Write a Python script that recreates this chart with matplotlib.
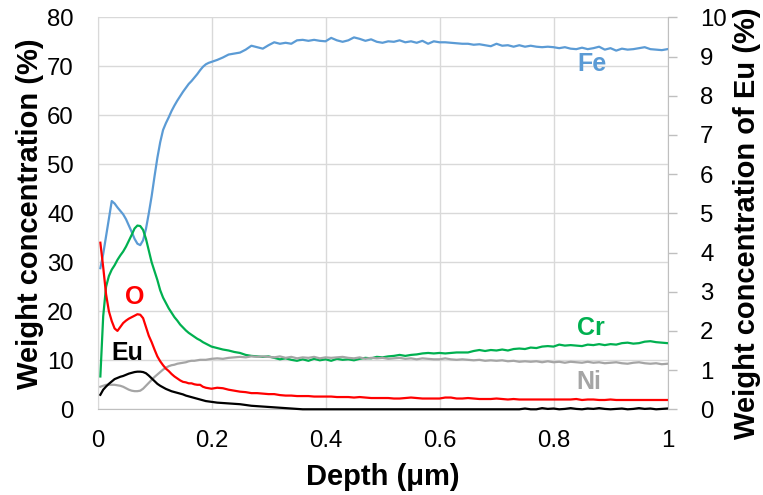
import numpy as np
import matplotlib
matplotlib.use("Agg")
import matplotlib.pyplot as plt

plt.rcParams["font.family"] = ["Liberation Sans", "DejaVu Sans"]

# depth grid (um): fine near the surface, coarser deeper
depth = np.round(np.concatenate([np.arange(0.005, 0.2001, 0.005),
                                 np.arange(0.21, 1.0001, 0.01)]), 3)

fe = [28.8, 31.7, 35.3, 38.9, 42.5, 42.0, 41.2, 40.5, 39.8, 38.8,
      37.5, 36.2, 34.8, 33.8, 33.5, 34.5, 36.8, 40.0, 43.5, 47.5,
      51.3, 54.5, 57.0, 58.4, 59.6, 60.9, 62.0, 63.0, 63.9, 64.8,
      65.6, 66.4, 67.0, 67.7, 68.4, 69.2, 69.9, 70.4, 70.7, 70.9,
      71.3, 71.8, 72.4, 72.6, 72.8, 73.4, 74.2, 73.9, 73.6, 74.3,
      74.9, 74.6, 74.8, 74.6, 75.3, 75.4, 75.2, 75.4, 75.2, 75.1,
      75.8, 75.3, 75.0, 75.3, 75.9, 75.6, 75.2, 75.5, 75.0, 74.8,
      75.1, 75.0, 75.3, 74.9, 75.1, 74.8, 75.2, 74.6, 75.1, 74.9,
      74.9, 74.8, 74.7, 74.6, 74.6, 74.4, 74.5, 74.3, 74.1, 74.6,
      74.2, 74.3, 74.0, 74.3, 74.0, 74.2, 74.0, 73.9, 74.0, 73.9,
      73.7, 73.9, 73.6, 73.5, 73.8, 73.5, 73.7, 74.0, 73.4, 73.7,
      73.2, 73.6, 73.4, 73.5, 73.7, 73.9, 73.5, 73.4, 73.3, 73.5]

cr = [6.7, 19.0, 25.0, 27.2, 28.5, 29.4, 30.5, 31.4, 32.2, 33.2,
      34.4, 35.6, 36.9, 37.5, 37.4, 36.6, 34.8, 32.4, 30.0, 28.2,
      26.4, 24.3, 22.8, 21.7, 20.6, 19.7, 18.8, 18.1, 17.3, 16.7,
      16.1, 15.6, 15.2, 14.8, 14.4, 14.1, 13.7, 13.4, 13.1, 12.8,
      12.5, 12.2, 12.0, 11.7, 11.5, 11.1, 10.9, 10.8, 10.7, 10.8,
      10.5, 10.2, 10.4, 10.1, 9.9, 10.2, 9.9, 10.3, 10.0, 10.2,
      9.9, 10.3, 10.1, 10.2, 10.0, 10.3, 10.5, 10.4, 10.7, 10.6,
      10.8, 10.9, 11.1, 10.9, 11.1, 11.2, 11.4, 11.5, 11.4, 11.5,
      11.4, 11.5, 11.6, 11.6, 11.6, 11.9, 12.1, 11.9, 12.1, 12.0,
      12.2, 12.0, 12.3, 12.4, 12.3, 12.6, 12.5, 12.8, 12.9, 12.8,
      13.2, 13.0, 13.1, 13.0, 12.9, 13.2, 13.1, 13.3, 13.1, 13.3,
      13.2, 13.5, 13.6, 13.4, 13.5, 13.8, 13.9, 13.7, 13.6, 13.5]

ni = [4.6, 4.8, 5.0, 5.0, 5.0, 5.0, 4.9, 4.8, 4.6, 4.3,
      4.0, 3.8, 3.7, 3.7, 3.8, 4.2, 4.8, 5.4, 6.0, 6.6,
      7.1, 7.6, 8.1, 8.5, 8.8, 9.0, 9.1, 9.3, 9.4, 9.5,
      9.6, 9.8, 9.9, 9.9, 10.0, 10.1, 10.1, 10.1, 10.2, 10.3,
      10.4, 10.3, 10.5, 10.6, 10.7, 10.6, 10.8, 10.7, 10.8, 10.7,
      10.6, 10.8, 10.5, 10.7, 10.4, 10.6, 10.5, 10.7, 10.4, 10.6,
      10.5, 10.6, 10.7, 10.5, 10.4, 10.6, 10.3, 10.5, 10.4, 10.5,
      10.3, 10.4, 10.5, 10.3, 10.4, 10.2, 10.4, 10.3, 10.2, 10.2,
      10.4, 10.2, 10.1, 10.2, 10.1, 10.0, 10.1, 9.9, 10.0, 9.9,
      10.0, 9.8, 9.9, 9.7, 9.8, 9.7, 9.8, 9.6, 9.8, 9.6,
      9.7, 9.5, 9.7, 9.6, 9.5, 9.7, 9.5, 9.6, 9.4, 9.5,
      9.6, 9.4, 9.3, 9.5, 9.6, 9.4, 9.3, 9.4, 9.2, 9.3]

o = [34.0, 29.0, 23.5, 20.0, 18.0, 16.5, 16.0, 16.8, 17.6, 18.1,
     18.5, 18.8, 19.1, 19.4, 19.3, 18.6, 16.8, 15.0, 13.7, 12.2,
     10.8, 9.8, 9.0, 8.3, 7.8, 7.2, 6.7, 6.3, 5.9, 5.6,
     5.5, 5.3, 5.3, 5.1, 5.0, 5.0, 4.6, 4.4, 4.3, 4.2,
     4.4, 4.3, 4.0, 3.8, 3.6, 3.5, 3.3, 3.3, 3.2, 3.1,
     3.1, 2.9, 2.8, 2.8, 2.7, 2.7, 2.7, 2.6, 2.6, 2.6,
     2.6, 2.5, 2.5, 2.5, 2.4, 2.5, 2.4, 2.3, 2.3, 2.3,
     2.3, 2.2, 2.2, 2.3, 2.4, 2.3, 2.2, 2.2, 2.2, 2.2,
     2.4, 2.4, 2.2, 2.2, 2.3, 2.2, 2.1, 2.1, 2.1, 2.2,
     2.1, 2.0, 2.1, 2.0, 2.0, 2.0, 2.0, 2.0, 2.0, 2.0,
     2.0, 2.0, 2.0, 2.1, 1.9, 2.0, 2.0, 1.9, 1.9, 2.0,
     1.9, 1.9, 1.9, 1.9, 1.9, 1.9, 1.9, 1.9, 1.9, 1.9]

# Eu on the secondary axis (0-10 %)
eu = [0.37, 0.50, 0.58, 0.65, 0.71, 0.77, 0.80, 0.83, 0.85, 0.88,
      0.91, 0.93, 0.95, 0.96, 0.96, 0.95, 0.92, 0.86, 0.79, 0.72,
      0.65, 0.60, 0.56, 0.52, 0.49, 0.46, 0.44, 0.42, 0.40, 0.38,
      0.35, 0.33, 0.31, 0.29, 0.27, 0.25, 0.23, 0.21, 0.20, 0.19,
      0.17, 0.16, 0.15, 0.14, 0.13, 0.11, 0.09, 0.08, 0.07, 0.06,
      0.05, 0.04, 0.03, 0.02, 0.01, 0.00, 0.00, 0.00, 0.00, 0.00,
      0.00, 0.00, 0.00, 0.00, 0.00, 0.00, 0.00, 0.00, 0.00, 0.00,
      0.00, 0.00, 0.00, 0.00, 0.00, 0.00, 0.00, 0.00, 0.00, 0.00,
      0.00, 0.00, 0.00, 0.00, 0.00, 0.00, 0.00, 0.00, 0.00, 0.00,
      0.00, 0.00, 0.00, 0.00, 0.02, 0.00, 0.00, 0.03, 0.01, 0.02,
      0.00, 0.01, 0.03, 0.01, 0.00, 0.02, 0.01, 0.03, 0.01, 0.00,
      0.01, 0.02, 0.00, 0.01, 0.03, 0.01, 0.02, 0.00, 0.01, 0.02]

c_fe = "#5B9BD5"
c_cr = "#00B050"
c_ni = "#A5A5A5"
c_o = "#FF0000"
c_eu = "#000000"
gray = "#D9D9D9"

fig = plt.figure(figsize=(7.63, 4.95), dpi=100)
ax = fig.add_axes([97.5 / 763, 1 - 409.3 / 495, 570 / 763, 392 / 495])

ax.plot(depth, fe, color=c_fe, lw=1.6)
ax.plot(depth, cr, color=c_cr, lw=1.6)
ax.plot(depth, ni, color=c_ni, lw=1.6)
ax.plot(depth, o, color=c_o, lw=1.6)

ax.set_xlim(0, 1)
ax.set_ylim(0, 80)
ax.set_xticks([0, 0.2, 0.4, 0.6, 0.8, 1])
ax.set_xticklabels(["0", "0.2", "0.4", "0.6", "0.8", "1"])
ax.set_yticks(range(0, 81, 10))
ax.grid(True, color=gray, lw=1)
ax.set_axisbelow(True)
ax.tick_params(axis="both", length=0, labelsize=17.3)
ax.tick_params(axis="x", pad=15)
ax.tick_params(axis="y", pad=17)
for s in ["top", "right"]:
    ax.spines[s].set_visible(False)
ax.spines["left"].set_color(gray)
ax.spines["bottom"].set_color("#BFBFBF")

ax2 = ax.twinx()
ax2.plot(depth, eu, color=c_eu, lw=1.6, clip_on=False)
ax2.set_ylim(0, 10)
ax2.set_yticks(range(0, 11))
ax2.tick_params(axis="y", direction="out", length=6.5, width=1, color="#BFBFBF",
                labelsize=17.3, pad=17)
for s in ["top", "left", "bottom"]:
    ax2.spines[s].set_visible(False)
ax2.spines["right"].set_color("#BFBFBF")

ax.set_xlabel("Depth (\u03bcm)", fontsize=21, fontweight="bold", va="center")
ax.xaxis.set_label_coords(0.5, (409.3 - 477) / 392)
ax.set_ylabel("Weight concentration (%)", fontsize=21, fontweight="bold", va="center")
ax.yaxis.set_label_coords((30 - 97.5) / 570, 0.5)
ax2.set_ylabel("Weight concentration of Eu (%)", fontsize=21, fontweight="bold",
               va="center", rotation=90)
ax2.yaxis.set_label_coords((747 - 97.5) / 570, 0.475)

ax.text(0.867, 70.5, "Fe", color=c_fe, fontsize=18, fontweight="bold", ha="center", va="center")
ax.text(0.866, 16.6, "Cr", color=c_cr, fontsize=18, fontweight="bold", ha="center", va="center")
ax.text(0.862, 5.6, "Ni", color=c_ni, fontsize=18, fontweight="bold", ha="center", va="center")
ax.text(0.066, 22.9, "O", color=c_o, fontsize=18, fontweight="bold", ha="center", va="center")
ax.text(0.053, 11.5, "Eu", color=c_eu, fontsize=18, fontweight="bold", ha="center", va="center")

fig.savefig("out.png", dpi=100)
